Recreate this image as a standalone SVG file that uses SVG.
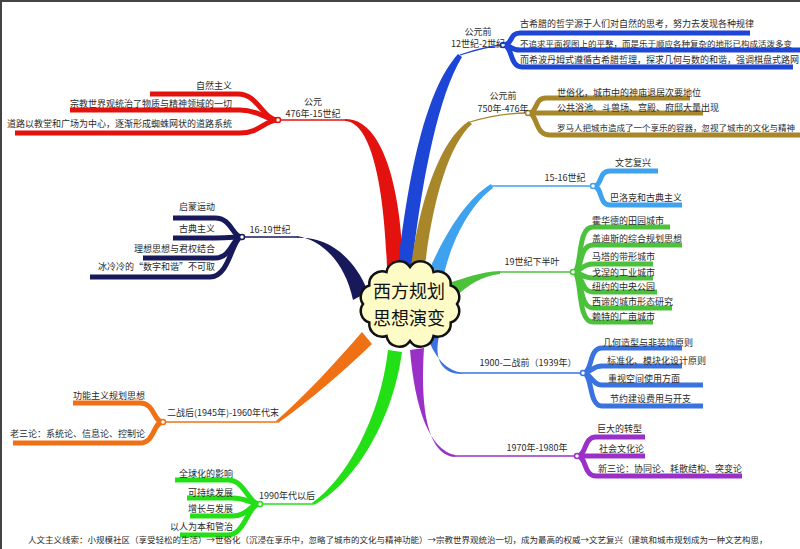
<svg xmlns="http://www.w3.org/2000/svg" width="800" height="549" viewBox="0 0 800 549">
<style>
.t{font-family:"Noto Sans CJK SC","Noto Sans",sans-serif;font-size:9px;fill:#2a2a2a}
.s{font-size:8.5px}
.m{text-anchor:middle}
.e{text-anchor:end}
.big{font-size:18px;fill:#111}
.sb{fill:none;stroke-width:5;stroke-linecap:butt}
.th{fill:none;stroke-width:1.3}
.jn{fill:#fff;stroke-width:1.5}
</style>
<rect x="0" y="0" width="800" height="549" fill="#ffffff"/>
<rect x="1" y="1" width="800" height="549" fill="none" stroke="#444" stroke-width="2"/>

<g id="connectors">
  <path id="b-red" d="M345,119 C380,118 401,180 403,268 L387,268 C384,180 370,122 345,121 Z" fill="#e3120f"/>
  <path id="b-blue1" d="M398,266 C408,180 424,92 458,54 L462,57 C438,96 422,180 412,266 Z" fill="#1d45d6"/>
  <path id="b-olive" d="M411,266 C420,200 440,140 469,121 L472,124 C448,145 432,205 425,266 Z" fill="#a8862a"/>
  <path id="b-lblue" d="M430,268 C445,235 465,200 491,184 L493,188 C470,205 452,240 444,274 Z" fill="#3fa2ee"/>
  <path id="b-green" d="M449,283 C465,278 480,272 500,271 L500,274 C482,276 468,285 455,297 Z" fill="#4cc23c"/>
  <path id="b-mblue" d="M428,338 C435,358 447,371 462,372.5 L462,374 C444,374 432,362 440,332 Z" fill="#3a72e0"/>
  <path id="b-purple" d="M410,350 C415,410 430,450 455,455 L455,457 C428,455 420,410 424,348 Z" fill="#9a30c8"/>
  <path id="b-bgreen" d="M388,350 C380,420 345,480 312,503 L314,505 C352,485 392,425 402,352 Z" fill="#22e015"/>
  <path id="b-orange" d="M362,332 C336,362 305,396 276,421 L278,423 C309,401 343,372 372,344 Z" fill="#f07015"/>
  <path id="b-navy" d="M297,236 C322,240 345,262 353,300 L368,292 C355,258 328,236 297,238 Z" fill="#17195a"/>

  <path class="th" stroke="#e3120f" d="M278,120 H346"/>
  <path class="th" stroke="#1d45d6" d="M460,55 C475,50 490,46 503,45"/>
  <path class="th" stroke="#a8862a" d="M470,122 C490,116 510,113 528,113"/>
  <path class="th" stroke="#3fa2ee" d="M492,186 H593"/>
  <path class="th" stroke="#4cc23c" d="M500,272 H573"/>
  <path class="th" stroke="#3a72e0" d="M462,373 H583"/>
  <path class="th" stroke="#9a30c8" d="M455,456 H577"/>
  <path class="th" stroke="#22e015" d="M260,504 H313"/>
  <path class="th" stroke="#f07015" d="M163,422 H277"/>
  <path class="th" stroke="#17195a" d="M242,237 H297"/>

  <g stroke="#1d45d6">
    <path class="sb" d="M503,45 C513,45 509,33 520,33 H750"/>
    <path class="sb" d="M503,45 C513,45 509,50 520,50 H800"/>
    <path class="sb" d="M503,45 C513,45 509,67 522,67 H793"/>
  </g>
  <g stroke="#a8862a">
    <path class="sb" d="M528,113 C538,113 534,98 546,98 H690"/>
    <path class="sb" d="M528,113 H703"/>
    <path class="sb" d="M528,113 C538,113 534,135 550,135 H800"/>
  </g>
  <g stroke="#3fa2ee">
    <path class="sb" d="M593,186 C603,186 598,171 610,171 H658"/>
    <path class="sb" d="M593,186 C603,186 598,205 610,205 H682"/>
  </g>
  <g stroke="#4cc23c">
    <path class="sb" d="M573,272 C583,272 576,227 593,227 H670"/>
    <path class="sb" d="M573,272 C583,272 578,245 593,245 H682"/>
    <path class="sb" d="M573,272 C580,272 582,264 593,264 H653"/>
    <path class="sb" d="M573,272 C580,272 582,278 593,278 H653"/>
    <path class="sb" d="M573,272 C583,272 580,292 593,292 H657"/>
    <path class="sb" d="M573,272 C583,272 578,308 593,308 H672"/>
    <path class="sb" d="M573,272 C583,272 576,322 593,322 H653"/>
  </g>
  <g stroke="#3a72e0">
    <path class="sb" d="M583,373 C593,373 588,348 602,348 H682"/>
    <path class="sb" d="M583,373 C591,373 592,366 602,366 H682"/>
    <path class="sb" d="M583,373 C591,373 592,385 602,385 H703"/>
    <path class="sb" d="M583,373 C593,373 588,406 602,406 H703"/>
  </g>
  <g stroke="#9a30c8">
    <path class="sb" d="M577,456 C587,456 583,437 596,437 H645"/>
    <path class="sb" d="M577,456 H645"/>
    <path class="sb" d="M577,456 C587,456 583,476 596,476 H742"/>
  </g>
  <g stroke="#e3120f">
    <path class="sb" d="M278,120 C263,120 258,94 238,94 H150"/>
    <path class="sb" d="M278,120 C265,120 260,110 240,110 H70"/>
    <path class="sb" d="M278,120 C265,120 260,133 240,133 H15"/>
  </g>
  <g stroke="#17195a">
    <path class="sb" d="M242,237 C232,237 232,218 215,218 H173"/>
    <path class="sb" d="M242,237 C235,237 230,238 215,238 H173"/>
    <path class="sb" d="M242,237 C232,237 232,258 215,258 H143"/>
    <path class="sb" d="M242,237 C232,237 230,277 210,277 H90"/>
  </g>
  <g stroke="#f07015">
    <path class="sb" d="M163,422 C153,422 155,403 140,403 H73"/>
    <path class="sb" d="M163,422 C153,422 155,443 140,443 H13"/>
  </g>
  <g stroke="#22e015">
    <path class="sb" d="M260,504 C248,504 245,480 228,480 H175"/>
    <path class="sb" d="M260,504 C250,504 248,498 232,498 H187"/>
    <path class="sb" d="M260,504 C250,504 248,516 232,516 H190"/>
    <path class="sb" d="M260,504 C248,504 245,535 228,535 H180"/>
  </g>

  <circle class="jn" cx="503" cy="45" r="2.5" stroke="#1d45d6"/>
  <circle class="jn" cx="528" cy="113" r="2.5" stroke="#a8862a"/>
  <circle class="jn" cx="593" cy="186" r="2.5" stroke="#3fa2ee"/>
  <circle class="jn" cx="573" cy="272" r="2.5" stroke="#4cc23c"/>
  <circle class="jn" cx="583" cy="373" r="2.5" stroke="#3a72e0"/>
  <circle class="jn" cx="577" cy="456" r="2.5" stroke="#9a30c8"/>
  <circle class="jn" cx="278" cy="120" r="2.5" stroke="#e3120f"/>
  <circle class="jn" cx="242" cy="237" r="2.5" stroke="#17195a"/>
  <circle class="jn" cx="163" cy="422" r="2.5" stroke="#f07015"/>
  <circle class="jn" cx="260" cy="504" r="2.5" stroke="#22e015"/>
</g>

<g id="center">
  <path d="M457,304 A12,12 0 0 1 450.7,322.5 A13,13 0 0 1 433.5,336 A13,13 0 0 1 410,341 A13,13 0 0 1 386.5,336 A13,13 0 0 1 369.3,322.5 A12,12 0 0 1 363,304 A12,12 0 0 1 369.3,285.5 A13,13 0 0 1 386.5,272 A13,13 0 0 1 410,267 A13,13 0 0 1 433.5,272 A13,13 0 0 1 450.7,285.5 A12,12 0 0 1 457,304 Z" fill="#fdfbc6" stroke="#111" stroke-width="2.5"/>
  <text class="t big m" x="409" y="298">西方规划</text>
  <text class="t big m" x="409" y="325">思想演变</text>
</g>

<g id="n-bc12">
  <text class="t m" x="478" y="34.5">公元前</text>
  <text class="t m" x="478" y="47">12世纪-2世纪</text>
  <text class="t" x="520" y="26.5">古希腊的哲学源于人们对自然的思考，努力去发现各种规律</text>
  <text class="t s" x="520" y="46.5">不追求平面视图上的平整，而是乐于顺应各种复杂的地形已构成活泼多变</text>
  <text class="t" x="520" y="62.5">而希波丹姆式遵循古希腊哲理，探求几何与数的和谐，强调棋盘式路网</text>
</g>
<g id="n-bc750">
  <text class="t m" x="503" y="99">公元前</text>
  <text class="t m" x="503" y="111.5">750年-476年</text>
  <text class="t" x="557" y="95.5">世俗化，城市中的神庙退居次要地位</text>
  <text class="t" x="557" y="110.5">公共浴池、斗兽场、宫殿、府邸大量出现</text>
  <text class="t s" x="557" y="130.5">罗马人把城市造成了一个享乐的容器，忽视了城市的文化与精神</text>
</g>
<g id="n-1516">
  <text class="t m" x="565" y="180.5">15-16世纪</text>
  <text class="t" x="615" y="165.5">文艺复兴</text>
  <text class="t" x="610" y="200.5">巴洛克和古典主义</text>
</g>
<g id="n-19">
  <text class="t m" x="532" y="264.5">19世纪下半叶</text>
  <text class="t" x="592" y="223.5">霍华德的田园城市</text>
  <text class="t" x="592" y="241.5">盖迪斯的综合规划思想</text>
  <text class="t" x="592" y="259.5">马塔的带形城市</text>
  <text class="t" x="592" y="276">戈涅的工业城市</text>
  <text class="t" x="592" y="290">纽约的中央公园</text>
  <text class="t" x="592" y="305">西谛的城市形态研究</text>
  <text class="t" x="592" y="320">赖特的广亩城市</text>
</g>
<g id="n-1900">
  <text class="t m" x="528" y="365.5">1900-二战前（1939年）</text>
  <text class="t" x="603" y="345.5">几何造型与非装饰原则</text>
  <text class="t" x="607" y="363.5">标准化、模块化设计原则</text>
  <text class="t" x="608" y="381.5">重视空间使用方面</text>
  <text class="t" x="610" y="401.5">节约建设费用与开支</text>
</g>
<g id="n-1970">
  <text class="t m" x="537" y="450.5">1970年-1980年</text>
  <text class="t" x="597" y="431.5">巨大的转型</text>
  <text class="t" x="599" y="451.5">社会文化论</text>
  <text class="t" x="598" y="471.5">新三论：协同论、耗散结构、突变论</text>
</g>
<g id="n-476">
  <text class="t m" x="313" y="104.5">公元</text>
  <text class="t m" x="313" y="117">476年-15世纪</text>
  <text class="t e" x="232" y="88.5">自然主义</text>
  <text class="t e" x="232" y="106.5">宗教世界观统治了物质与精神领域的一切</text>
  <text class="t e" x="232" y="126.5">道路以教堂和广场为中心，逐渐形成蜘蛛网状的道路系统</text>
</g>
<g id="n-1619">
  <text class="t m" x="270" y="232.5">16-19世纪</text>
  <text class="t e" x="215" y="209.5">启蒙运动</text>
  <text class="t e" x="215" y="231.5">古典主义</text>
  <text class="t e" x="215" y="251.5">理想思想与君权结合</text>
  <text class="t e" x="215" y="269.5">冰冷冷的“数字和谐”不可取</text>
</g>
<g id="n-1945">
  <text class="t m" x="223" y="415.5">二战后(1945年)-1960年代末</text>
  <text class="t e" x="145" y="398.5">功能主义规划思想</text>
  <text class="t e" x="145" y="436.5">老三论：系统论、信息论、控制论</text>
</g>
<g id="n-1990">
  <text class="t m" x="287" y="498.5">1990年代以后</text>
  <text class="t e" x="233" y="476.5">全球化的影响</text>
  <text class="t e" x="233" y="495.5">可持续发展</text>
  <text class="t e" x="233" y="511.5">增长与发展</text>
  <text class="t e" x="233" y="529.5">以人为本和管治</text>
</g>
<g id="footer">
  <text class="t s" x="28" y="543">人文主义线索：小规模社区（享受轻松的生活）→世俗化（沉浸在享乐中，忽略了城市的文化与精神功能）→宗教世界观统治一切，成为最高的权威→文艺复兴（建筑和城市规划成为一种文艺构思，</text>
</g>
</svg>
